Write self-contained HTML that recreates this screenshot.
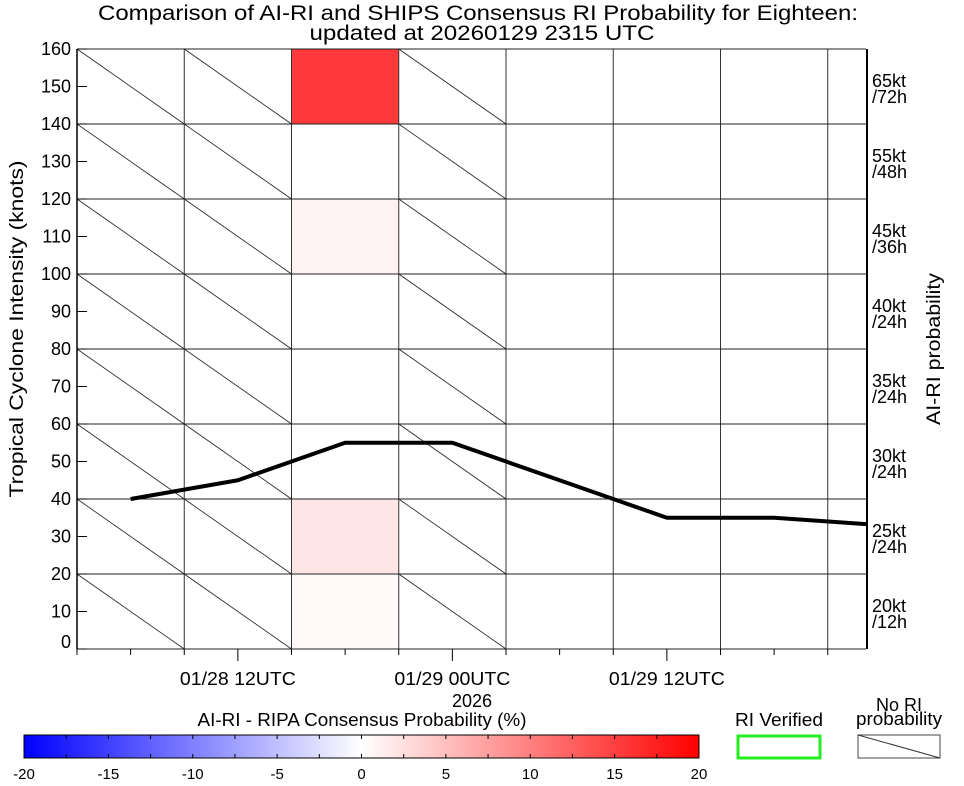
<!DOCTYPE html>
<html><head><meta charset="utf-8"><style>
body{margin:0;background:#fff;}
svg{display:block;font-family:"Liberation Sans",sans-serif;}
</style></head><body>
<svg id="chart" width="964" height="786" viewBox="0 0 964 786">
<defs>
<linearGradient id="cbar" x1="0" x2="1" y1="0" y2="0">
<stop offset="0" stop-color="#0000ff"/><stop offset="0.5" stop-color="#ffffff"/><stop offset="1" stop-color="#ff0000"/>
</linearGradient>
</defs>
<text x="478" y="20" font-size="21" text-anchor="middle" textLength="760" lengthAdjust="spacingAndGlyphs">Comparison of AI-RI and SHIPS Consensus RI Probability for Eighteen:</text>
<text x="482" y="40" font-size="21" text-anchor="middle" textLength="345" lengthAdjust="spacingAndGlyphs">updated at 20260129 2315 UTC</text>
<g id="cells"></g>
<g id="grid"></g>
<g id="axes"></g>
<polyline id="intensity-line" fill="none" stroke="#000" stroke-width="4" stroke-linejoin="round"/>
<text transform="translate(23,329) rotate(-90)" font-size="19" text-anchor="middle" textLength="337" lengthAdjust="spacingAndGlyphs">Tropical Cyclone Intensity (knots)</text>
<text transform="translate(940,349) rotate(-90)" font-size="19" text-anchor="middle" textLength="152" lengthAdjust="spacingAndGlyphs">AI-RI probability</text>
<text x="472" y="707" font-size="18" text-anchor="middle">2026</text>
<text x="362" y="726" font-size="18" text-anchor="middle" textLength="329" lengthAdjust="spacingAndGlyphs">AI-RI - RIPA Consensus Probability (%)</text>
<rect x="24" y="735" width="675" height="23" fill="url(#cbar)" stroke="#000" stroke-width="1"/>
<g id="cbticks"></g>
<text x="779" y="726" font-size="18" text-anchor="middle" textLength="88" lengthAdjust="spacingAndGlyphs">RI Verified</text>
<rect x="738" y="736" width="82" height="22" fill="none" stroke="#22ee22" stroke-width="3"/>
<text x="899" y="711" font-size="18" text-anchor="middle">No RI</text>
<text x="899" y="725" font-size="18" text-anchor="middle" textLength="86" lengthAdjust="spacingAndGlyphs">probability</text>
<rect x="858" y="735" width="82" height="23" fill="#fff" stroke="#444" stroke-width="1"/>
<line x1="858" y1="735" x2="940" y2="758" stroke="#333" stroke-width="1"/>
</svg>
<script>
// hours since 01/28 00UTC for each grid column start
const colStarts = [3, 9, 15, 21, 27, 33, 39, 45];
// intensity bins (lower bound, knots)
const rowBins = [0, 20, 40, 60, 80, 100, 120, 140];
// probability difference per column (rows from 0 to 140); null = No RI probability
const cellVals = [
  [null,null,null,null,null,null,null,null],
  [null,null,null,null,null,null,null,null],
  [0.5,2,0,0,0,1,0,15.5],
  [null,null,null,null,null,null,null,null],
  [0,0,0,0,0,0,0,0],
  [0,0,0,0,0,0,0,0],
  [0,0,0,0,0,0,0,0],
  [0,0,0,0,0,0,0,0]
];
const rightLabels1 = ["20kt","25kt","30kt","35kt","40kt","45kt","55kt","65kt"];
const rightLabels2 = ["/12h","/24h","/24h","/24h","/24h","/36h","/48h","/72h"];
const lineHours = [6, 12, 18, 24, 30, 36, 42, 48];
const lineKnots = [40, 45, 55, 55, 45, 35, 35, 33];
const yTicks = [0,10,20,30,40,50,60,70,80,90,100,110,120,130,140,150,160];
const xMajor = [12, 24, 36];
const xMajorLabels = ["01/28 12UTC","01/29 00UTC","01/29 12UTC"];
const cbTicks = [-20,-15,-10,-5,0,5,10,15,20];

const NS="http://www.w3.org/2000/svg";
const X0=77, X1=866, Y0=649, Y1=49;
const xs = h => X0 + (h-3)*(107.25/6);
const ys = k => Y0 - (k/160)*(Y0-Y1);
const cbx = v => 24 + (v+20)/40*675;
function mk(tag, attrs, parent){const e=document.createElementNS(NS,tag);for(const k in attrs)e.setAttribute(k,attrs[k]);parent.appendChild(e);return e;}
function colorFor(v){const t=Math.max(-1,Math.min(1,v/20));
 if(t>=0){const g=Math.round(255*(1-t));return `rgb(255,${g},${g})`;}
 const g=Math.round(255*(1+t));return `rgb(${g},${g},255)`;}
const cells=document.getElementById('cells'), grid=document.getElementById('grid'), axes=document.getElementById('axes');

cellVals.forEach((col,ci)=>{
  const xa=xs(colStarts[ci]), xb=Math.min(X1, xs(colStarts[ci]+6));
  col.forEach((v,ri)=>{
    const ya=ys(rowBins[ri]+20), yb=ys(rowBins[ri]);
    if(v===null){
      const l=mk('line',{x1:xa,y1:ya,x2:xb,y2:yb,stroke:'#222','stroke-width':0.8},cells);
      
      
    } else if(v!==0){
      const r=mk('rect',{x:xa,y:ya,width:xb-xa,height:yb-ya,fill:colorFor(v)},cells);
      
      
    }
  });
});
colStarts.forEach(h=>{const x=xs(h);
  const l=mk('line',{x1:x,y1:Y1,x2:x,y2:Y0,stroke:'#333','stroke-width':1},grid);
  
  
});
rowBins.concat([160]).forEach((k,i)=>{const y=ys(k);
  const l=mk('line',{x1:X0,y1:y,x2:X1,y2:y,stroke:'#222','stroke-width':1},grid);
  
  
  if(i<rowBins.length){
    const top=ys(k+20);
    const t1=mk('text',{x:872,y:top+38,'font-size':18},grid);t1.textContent=rightLabels1[i];
    
    
    const t2=mk('text',{x:872,y:top+54,'font-size':18},grid);t2.textContent=rightLabels2[i];
    
    
  }
});
const la=mk('line',{x1:X0,y1:Y1,x2:X0,y2:Y0,stroke:'#000','stroke-width':1.5},axes);


const ra=mk('line',{x1:867,y1:Y1,x2:867,y2:Y0,stroke:'#000','stroke-width':2},axes);


yTicks.forEach(k=>{const y=ys(k);
  const t=mk('line',{x1:X0,y1:y,x2:X0+10,y2:y,stroke:'#000','stroke-width':1},axes);
  
  
  const lb=mk('text',{x:71,y:(k===0?y-1:y+6),'font-size':18,'text-anchor':'end'},axes);lb.textContent=k;
  
  
});
for(let h=3;h<=48;h+=3){const x=xs(h);if(x>X1)continue;const major=xMajor.includes(h);
  const t=mk('line',{x1:x,y1:Y0,x2:x,y2:Y0+(major?12:6),stroke:'#000','stroke-width':1},axes);
  
  
}
xMajor.forEach((h,i)=>{const lb=mk('text',{x:xs(h),y:685,'font-size':18,'text-anchor':'middle',textLength:116,lengthAdjust:'spacingAndGlyphs'},axes);lb.textContent=xMajorLabels[i];
  
  
});
document.getElementById('intensity-line').setAttribute('points', lineHours.map((h,i)=>{
  let x=xs(h), y=ys(lineKnots[i]);
  if(x>X1){const xp=xs(lineHours[i-1]), yp=ys(lineKnots[i-1]); y=yp+(y-yp)*(X1-xp)/(x-xp); x=X1;}
  return x+','+y;}).join(' '));
const cb=document.getElementById('cbticks');
for(let v=-20;v<=20;v+=2.5){const x=cbx(v);
  mk('line',{x1:x,y1:735,x2:x,y2:739,stroke:'#000','stroke-width':1},cb);
  mk('line',{x1:x,y1:754,x2:x,y2:758,stroke:'#000','stroke-width':1},cb);
}
cbTicks.forEach(v=>{const t=mk('text',{x:cbx(v),y:779,'font-size':15,'text-anchor':'middle'},cb);t.textContent=v;
  
  
});
</script>
</body></html>
